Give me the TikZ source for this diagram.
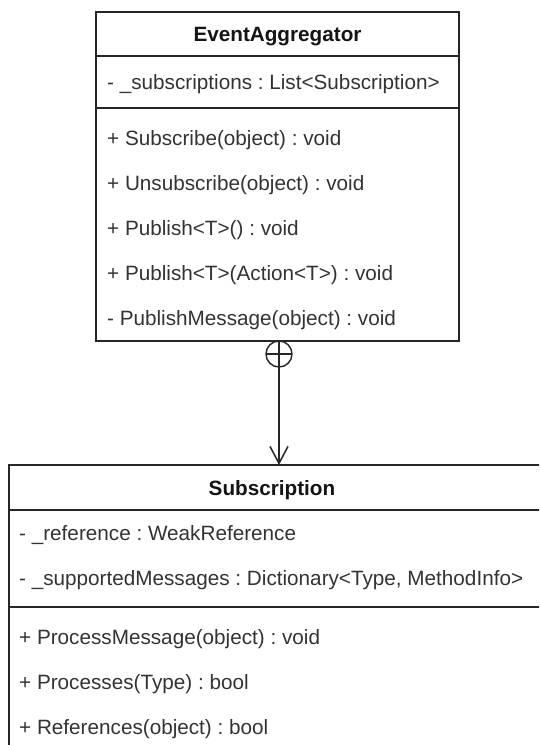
\documentclass[tikz,border=0pt]{standalone}
\usepackage{fontspec}
\setmainfont{Liberation Sans}
\usetikzlibrary{arrows.meta}
\frenchspacing
\begin{document}
\frenchspacing
\begin{tikzpicture}[x=1pt,y=-1pt,
  box/.style={draw=black!85, line width=1.6pt, inner sep=0pt, outer sep=0pt, rectangle},
  txt/.style={anchor=west, inner sep=0pt, text=black!80, text height=14.8pt, text depth=0pt, font=\fontsize{20.7}{24}\selectfont\frenchspacing},
  ttl/.style={inner sep=0pt, text=black!92, text height=14.8pt, text depth=0pt, font=\fontsize{20.7}{24}\selectfont\bfseries},
  sep/.style={draw=black!85, line width=1.6pt},
  conn/.style={draw=black!85, line width=1.5pt}]
\useasboundingbox (0,0) rectangle (539,745);
\clip (0,0) rectangle (539,745);
\fill[white] (0,0) rectangle (539,745);

% EventAggregator class
\node[box, minimum width=363pt, minimum height=329pt, anchor=north west] (agg) at (96,12) {};
\draw[sep] (agg.west |- 0,56) -- (agg.east |- 0,56);
\draw[sep] (agg.west |- 0,108) -- (agg.east |- 0,108);
\node[ttl] (aggt) at (277.5,34) {EventAggregator};
\node[txt] (a1) at (107,82) {- \_subscriptions : List<Subscription>};
\node[txt] (m1) at (107,138) {+ Subscribe(object) : void};
\node[txt] (m2) at (107,183) {+ Unsubscribe(object) : void};
\node[txt] (m3) at (107,228) {+ Publish<T>() : void};
\node[txt] (m4) at (107,273) {+ Publish<T>(Action<T>) : void};
\node[txt] (m5) at (107,318) {- PublishMessage(object) : void};

% Subscription class
\node[box, minimum width=540pt, minimum height=320pt, anchor=north west] (sub) at (9,465) {};
\draw[sep] (sub.west |- 0,510) -- (sub.east |- 0,510);
\draw[sep] (sub.west |- 0,607) -- (sub.east |- 0,607);
\node[ttl] (subt) at (272,488) {Subscription};
\node[txt] (b1) at (19,533) {- \_reference : WeakReference};
\node[txt] (b2) at (19,578) {- \_supportedMessages : Dictionary<Type, MethodInfo>};
\node[txt] (n1) at (19,637) {+ ProcessMessage(object) : void};
\node[txt] (n2) at (19,682) {+ Processes(Type) : bool};
\node[txt] (n3) at (19,727) {+ References(object) : bool};

% containment connector
\coordinate (cx) at (279,0);
\node[circle, draw=black!85, line width=1.4pt, minimum size=26pt, inner sep=0pt, outer sep=0pt, anchor=north] (cont) at (agg.south -| cx) {};
\draw[conn] (cont.west) -- (cont.east);
\draw[conn, -{Straight Barb[length=17pt,width=18pt]}] (cont.north) -- (cont.north |- sub.north);
\end{tikzpicture}
\end{document}
